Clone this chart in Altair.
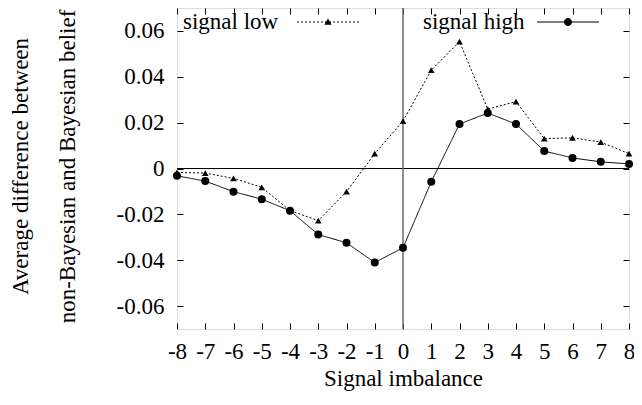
import altair as alt
import pandas as pd

# ---- data ----
imbalance = list(range(-8, 9))
signal_low = [-0.0017, -0.0020, -0.0043, -0.0082, -0.0184, -0.0227, -0.0101, 0.0065,
              0.0207, 0.0429, 0.0553, 0.0259, 0.0292, 0.0130, 0.0134, 0.0115, 0.0065]
signal_high = [-0.0032, -0.0055, -0.0101, -0.0134, -0.0184, -0.0288, -0.0324, -0.0410,
               -0.0346, -0.0058, 0.0194, 0.0242, 0.0194, 0.0076, 0.0046, 0.0029, 0.0020]
series_names = ["signal low", "signal high"]
y_ticks = [-0.06, -0.04, -0.02, 0, 0.02, 0.04, 0.06]
x_title = "Signal imbalance"
y_title = ["Average difference between", "non-Bayesian and Bayesian belief"]

df = pd.DataFrame({
    "imbalance": imbalance * 2,
    "diff": signal_low + signal_high,
    "series": [series_names[0]] * len(imbalance) + [series_names[1]] * len(imbalance),
})

W, H = 452, 321
FONT = "Liberation Serif"
FS = 23
SYM = 62  # legend sample length in px

xscale = alt.Scale(domain=[-8, 8], nice=False, zero=False)
yscale = alt.Scale(domain=[-0.07, 0.07], nice=False, zero=False)

common = dict(grid=False, domain=False, labelFont=FONT, labelFontSize=FS, labelColor="black",
              titleFont=FONT, titleFontSize=FS, titleFontWeight="normal", titleColor="black")

main_x = alt.Axis(orient="bottom", values=imbalance, ticks=False, tickSize=0,
                  labelExpr="'' + datum.value", labelPadding=11, labelFlush=False,
                  title=x_title, titlePadding=4, **common)
main_y = alt.Axis(orient="left", values=y_ticks, ticks=False, tickSize=0,
                  labelExpr="datum.value == 0 ? '0' : (datum.value < 0 ? '-' : '') + format(abs(datum.value), '.2f')",
                  labelPadding=13, labelFlush=False,
                  title=y_title, titleLineHeight=47, titlePadding=37,
                  titleAlign="center", titleY=158, **common)

def tick_axis(orient, values, offset):
    return alt.Axis(orient=orient, values=values, offset=offset, labels=False, domain=False,
                    grid=False, ticks=True, tickSize=6, tickColor="black", tickWidth=1, title=None)

# legend sample symbols (line + marker) as filled shapes, unit coords (1 unit = SYM/2 px)
TH = 0.018  # half thickness of the sample line

def seg(x1, x2):
    return f"M{x1:.3f},{-TH}L{x2:.3f},{-TH}L{x2:.3f},{TH}L{x1:.3f},{TH}Z"

def dotted_path():
    parts = []
    x = -1.0
    while x < 1.0:
        parts.append(seg(x, min(x + 0.065, 1.0)))
        x += 0.129
    return "".join(parts)

tri = "M0,-0.11L0.12,0.09L-0.12,0.09Z"
circ = "M0.13,0A0.13,0.13 0 1,1 -0.13,0A0.13,0.13 0 1,1 0.13,0Z"
path_low = dotted_path() + tri
path_high = seg(-1, 1) + circ

one_row = alt.Data(values=[{"a": 1}])

hzero = alt.Chart(one_row).mark_rule(color="black", strokeWidth=1).encode(
    y=alt.YDatum(0, scale=yscale, axis=None))
vzero = alt.Chart(one_row).mark_rule(color="#6b6b6b", strokeWidth=1.5).encode(
    x=alt.XDatum(0, scale=xscale, axis=None))

lines = alt.Chart(df).mark_line(color="black", strokeWidth=1).encode(
    x=alt.X("imbalance:Q", scale=xscale, axis=main_x),
    y=alt.Y("diff:Q", scale=yscale, axis=main_y),
    strokeDash=alt.StrokeDash("series:N", scale=alt.Scale(domain=series_names, range=[[2, 2], [1, 0]]),
                              legend=None),
)

points = alt.Chart(df).mark_point(filled=True, color="black", opacity=1).encode(
    x=alt.X("imbalance:Q", scale=xscale, axis=tick_axis("top", imbalance, -H)),
    y=alt.Y("diff:Q", scale=yscale, axis=tick_axis("right", y_ticks, -W)),
    shape=alt.Shape("series:N", scale=alt.Scale(domain=series_names, range=["triangle-up", "circle"]),
                    legend=None),
    size=alt.Size("series:N", scale=alt.Scale(domain=series_names, range=[45, 64]), legend=None),
)

legend_layer = alt.Chart(df).transform_filter("false").mark_point(
    filled=True, color="black", opacity=1, size=SYM * SYM).encode(
    x=alt.X("imbalance:Q", scale=xscale, axis=tick_axis("bottom", imbalance, -H)),
    y=alt.Y("diff:Q", scale=yscale, axis=tick_axis("left", y_ticks, -W)),
    shape=alt.Shape("series:N",
                    scale=alt.Scale(domain=series_names, range=[path_low, path_high]),
                    legend=alt.Legend(title=None, orient="none", legendX=8, legendY=-17,
                                      direction="horizontal", labelFont=FONT, labelFontSize=FS,
                                      labelColor="black", symbolSize=SYM * SYM, symbolStrokeWidth=0,
                                      symbolFillColor="black",
                                      symbolOpacity=1, symbolOffset=112,
                                      labelOffset={"expr": "-176"},
                                      columnPadding=64, padding=0, labelLimit=300)),
)

chart = alt.layer(hzero, vzero, lines, points, legend_layer).resolve_scale(
    shape="independent", size="independent", strokeDash="independent"
).resolve_axis(x="independent", y="independent").properties(
    width=W, height=H,
    autosize=alt.AutoSizeParams(type="none"),
    padding={"left": 169, "top": 0, "right": 5, "bottom": 64},
).configure_view(stroke="black", strokeWidth=1).configure_axis(
    labelFont=FONT, titleFont=FONT
).configure_legend(labelFont=FONT).configure(background="white", font=FONT)

chart.save("out.html", embed_options={"renderer": "svg", "actions": False})
